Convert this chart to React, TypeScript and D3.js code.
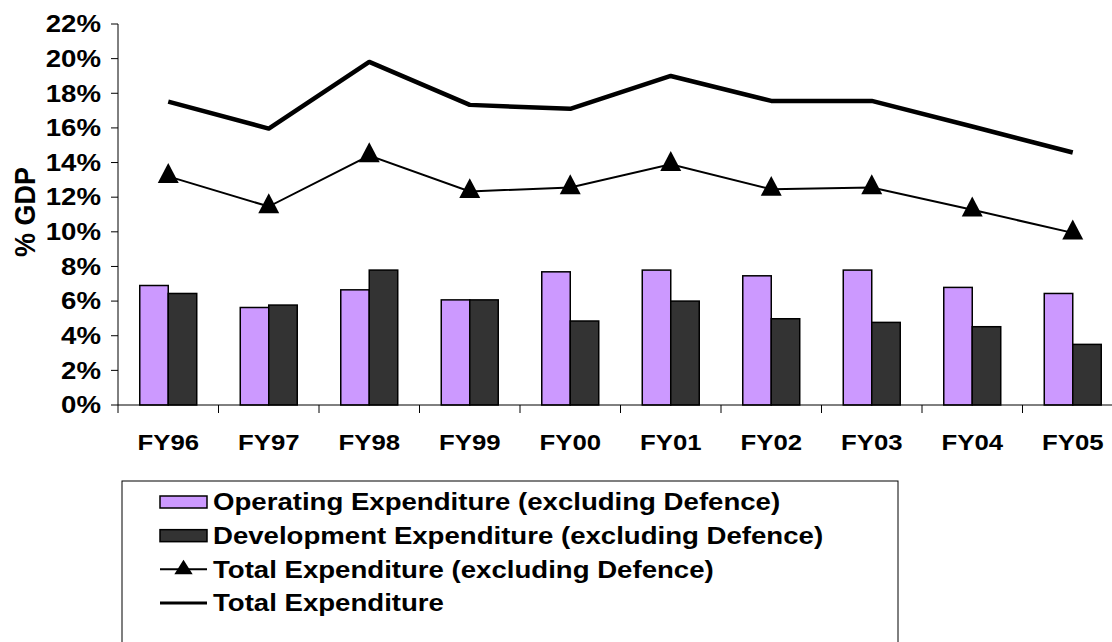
import React from 'react';
import * as d3 from 'd3';

// values (% of GDP)
const years = ['FY96', 'FY97', 'FY98', 'FY99', 'FY00', 'FY01', 'FY02', 'FY03', 'FY04', 'FY05'];
const operating = [6.9, 5.63, 6.65, 6.07, 7.69, 7.79, 7.46, 7.79, 6.79, 6.44];
const development = [6.44, 5.77, 7.79, 6.07, 4.85, 6.0, 4.98, 4.77, 4.52, 3.5];
const totalExDefence = [13.2, 11.46, 14.4, 12.33, 12.56, 13.9, 12.46, 12.56, 11.27, 9.94];
const total = [17.52, 15.96, 19.81, 17.33, 17.1, 19.0, 17.56, 17.56, 16.08, 14.58];
const yTicks = [0, 2, 4, 6, 8, 10, 12, 14, 16, 18, 20, 22];
const legendLabels = [
  'Operating Expenditure (excluding Defence)',
  'Development Expenditure (excluding Defence)',
  'Total Expenditure (excluding Defence)',
  'Total Expenditure',
];

const W = 1112;
const H = 642;
const font = "'Liberation Sans', Arial, sans-serif";
const fs = 23;
const sx = 1.2; // the reference is stretched sideways

export default function App() {
  const left = 118;
  const y = d3.scaleLinear().domain([0, 22]).range([405, 24]);
  const x = d3.scaleBand<string>()
    .domain(years)
    .range([left, left + 1005])
    .paddingInner(0.433)
    .paddingOuter(0.2165);
  const sub = d3.scaleBand<string>().domain(['op', 'dev']).range([0, x.bandwidth()]);
  const step = x.step();
  const cx = (d: string) => (x(d) as number) + x.bandwidth() / 2;

  const line = d3.line<number>()
    .x((_, i) => cx(years[i]))
    .y(d => y(d));

  const tri = d3.symbol(d3.symbolTriangle, 190)();
  const triSmall = d3.symbol(d3.symbolTriangle, 120)();

  const legendTop = 481;
  const rowY = d3.scaleLinear().domain([0, 3]).range([502, 603]);
  const symX0 = 160;
  const symX1 = 207;

  return (
    <svg width={W} height={H} style={{ position: 'absolute', left: 0, top: 0, background: '#fff' }}>
      <rect width={W} height={H} fill="#fff" />

      {/* bars */}
      {years.map((yr, i) => (
        <g key={yr} transform={`translate(${x(yr)},0)`}>
          <rect x={sub('op')} y={y(operating[i])} width={sub.bandwidth()} height={y(0) - y(operating[i])}
            fill="#CC99FF" stroke="#000" strokeWidth={1.5} />
          <rect x={sub('dev')} y={y(development[i])} width={sub.bandwidth()} height={y(0) - y(development[i])}
            fill="#333333" stroke="#000" strokeWidth={1.5} />
        </g>
      ))}

      {/* axes */}
      <line x1={left} x2={left} y1={y(22)} y2={y(0)} stroke="#000" strokeWidth={1} />
      <line x1={left} x2={W} y1={y(0)} y2={y(0)} stroke="#000" strokeWidth={1} />
      {yTicks.map(t => (
        <g key={t}>
          <line x1={left - 7} x2={left} y1={y(t)} y2={y(t)} stroke="#000" strokeWidth={1} />
          <text transform={`translate(101,${y(t)}) scale(1.2,1)`} textAnchor="end" dy="0.36em"
            fontFamily={font} fontWeight="bold" fontSize={fs} fill="#000">{t}%</text>
        </g>
      ))}
      {d3.range(years.length + 1).map(i => (
        <line key={i} x1={left + i * step} x2={left + i * step} y1={y(0)} y2={y(0) + 8} stroke="#000" strokeWidth={1} />
      ))}
      {years.map(yr => (
        <text key={yr} transform={`translate(${cx(yr)},442) scale(1.12,1)`} textAnchor="middle" dy="0.36em"
          fontFamily={font} fontWeight="bold" fontSize={fs} fill="#000">{yr}</text>
      ))}
      <text transform="translate(24,212) rotate(-90) scale(1,1.1)" textAnchor="middle" dy="0.36em"
        fontFamily={font} fontWeight="bold" fontSize={27} fill="#000">% GDP</text>

      {/* lines */}
      <path d={line(total) || ''} fill="none" stroke="#000" strokeWidth={4.5} strokeLinejoin="round" />
      <path d={line(totalExDefence) || ''} fill="none" stroke="#000" strokeWidth={2} />
      {totalExDefence.map((v, i) => (
        <path key={i} d={tri || ''} transform={`translate(${cx(years[i])},${y(v)}) scale(1,1.1)`} fill="#000" />
      ))}

      {/* legend */}
      <rect x={122} y={legendTop} width={776} height={200} fill="#fff" stroke="#000" strokeWidth={1} />
      <rect x={symX0} y={rowY(0) - 6} width={symX1 - symX0} height={12} fill="#CC99FF" stroke="#000" strokeWidth={1.5} />
      <rect x={symX0} y={rowY(1) - 6} width={symX1 - symX0} height={12} fill="#333333" stroke="#000" strokeWidth={1.5} />
      <line x1={symX0} x2={symX1} y1={rowY(2)} y2={rowY(2)} stroke="#000" strokeWidth={2} />
      <path d={triSmall || ''} transform={`translate(${(symX0 + symX1) / 2},${rowY(2)}) scale(1.1,1)`} fill="#000" />
      <line x1={symX0} x2={symX1} y1={rowY(3)} y2={rowY(3)} stroke="#000" strokeWidth={3} />
      {legendLabels.map((l, i) => (
        <text key={l} transform={`translate(213,${rowY(i)}) scale(${sx},1)`} dy="0.36em"
          fontFamily={font} fontWeight="bold" fontSize={fs} fill="#000">{l}</text>
      ))}
    </svg>
  );
}
